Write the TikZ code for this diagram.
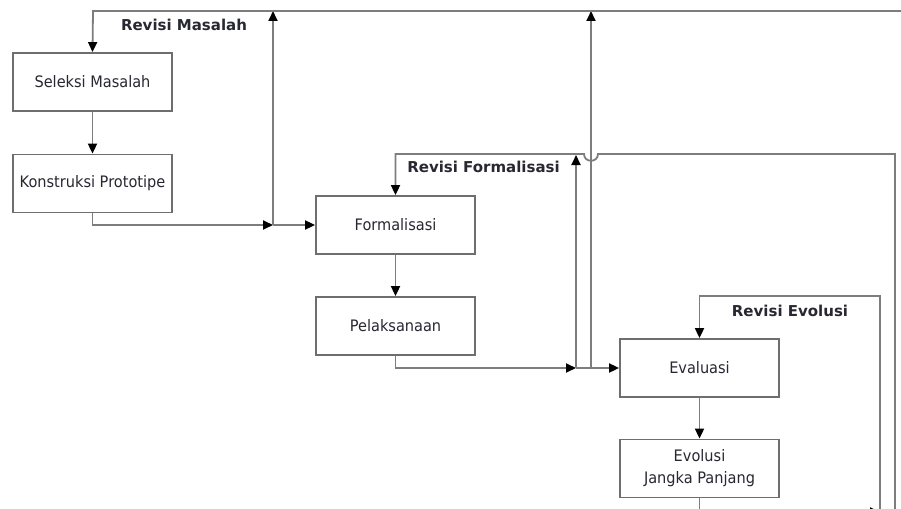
\documentclass[tikz,border=0pt]{standalone}
\usepackage{fontspec}
\setmainfont{DejaVu Sans}
\newfontfamily\boxfont[FakeStretch=0.92]{DejaVu Sans}
\usetikzlibrary{arrows.meta}
\definecolor{linegray}{RGB}{125,125,125}
\definecolor{boxgray}{RGB}{110,110,110}
\definecolor{txt}{RGB}{40,40,50}
\tikzset{
  procbox/.style={draw=boxgray, line width=1.8pt, minimum width=159pt, minimum height=58pt,
    inner sep=0pt, text=txt, font=\boxfont\fontsize{15.8}{22}\selectfont, align=center},
  conn/.style={draw=linegray, line width=1.8pt},
  arr/.style={conn, -{Triangle[length=10pt,width=9pt,fill=black,color=black]}},
  revlabel/.style={font=\fontsize{15}{18}\selectfont\bfseries, text=txt, inner sep=0pt}
}
\begin{document}
\begin{tikzpicture}[x=1pt,y=-1pt]
\useasboundingbox (0,0) rectangle (901,508);
\clip (0,0) rectangle (901,508);
\fill[white] (0,0) rectangle (901,508);

% boxes
\node[procbox] (s) at (92.5,82) {Seleksi Masalah};
\node[procbox] (k) at (92.5,183.5) {Konstruksi Prototipe};
\node[procbox] (f) at (395.5,225) {Formalisasi};
\node[procbox] (p) at (395.5,326) {Pelaksanaan};
\node[procbox] (e) at (699.5,368) {Evaluasi};
\node[procbox] (v) at (699.5,468.5) {Evolusi\\Jangka Panjang};

% labels
\node[revlabel] (lm) at (184,25) {Revisi Masalah};
\node[revlabel] (lf) at (483.5,167) {Revisi Formalisasi};
\node[revlabel] (le) at (790,311) {Revisi Evolusi};

% junction coordinates
\coordinate (j1) at (273,225);
\coordinate (t1) at (273,11);
\coordinate (j2) at (576,368);
\coordinate (t2) at (576,155);
\coordinate (j3) at (591,368);
\coordinate (t3) at (591,11);
\coordinate (tl) at (93,11);
\coordinate (tr) at (905,11);
\coordinate (rf1) at (895,530);
\coordinate (rf2) at (895,154);
\coordinate (rfa) at (598,154);
\coordinate (rfb) at (584,154);
\coordinate (rf3) at (395.5,154);
\coordinate (re1) at (880,530);
\coordinate (re2) at (880,296);
\coordinate (re3) at (699.5,296);
\coordinate (j4) at (880,512);

% main flow
\draw[arr] (s) -- (k);
\draw[arr] (k.south) |- (j1);
\draw[arr] (j1) -- (f);
\draw[arr] (f) -- (p);
\draw[arr] (p.south) |- (j2);
\draw[conn] (j2) -- (j3);
\draw[arr] (j3) -- (e);
\draw[arr] (e) -- (v);
\draw[arr] (v.south) |- (j4);

% feedback up
\draw[arr] (j1) -- (t1);
\draw[arr] (j2) -- (t2);
\draw[arr] (j3) -- (t3);

% Revisi Masalah loop
\draw[arr] (tr) -- (tl) -- (s.north);

% Revisi Formalisasi loop (with jump)
\draw[arr] (rf1) -- (rf2) -- (rfa) .. controls (598,163) and (584,163) .. (rfb) -- (rf3) -- (f.north);

% Revisi Evolusi loop
\draw[arr] (re1) -- (re2) -- (re3) -- (e.north);
\end{tikzpicture}
\end{document}
